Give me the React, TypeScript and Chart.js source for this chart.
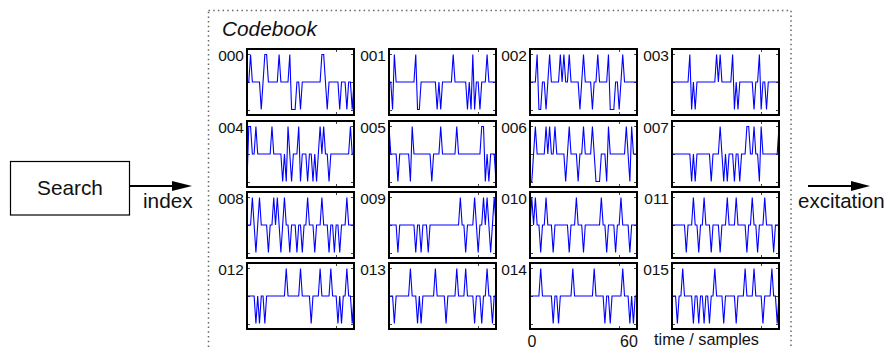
import React, { useEffect, useRef } from "react";
import { Chart, registerables } from "chart.js";

Chart.register(...registerables);

// ---------------- data ----------------
const codebookLabels = ["000", "001", "002", "003", "004", "005", "006", "007", "008", "009", "010", "011", "012", "013", "014", "015"];
const sampleCount = 61; // samples 0..60
const xTicks = [0, 50];
const yTicks = [-1, 0, 1];
const timeTickLabels = ["0", "60"];

// pulses: [sample index, amplitude]; all other samples are 0
const pulses000 = [[2, 1], [8, -1], [10, 1], [11, 1], [18, 1], [24, 1], [25, -1], [26, -1], [27, -1], [30, -1], [42, 1], [43, 1], [45, -1], [52, -1], [56, -1], [59, -1]];
const pulses001 = [[2, -1], [3, 1], [15, 1], [16, -1], [17, -1], [27, -1], [29, -1], [36, 1], [44, -1], [46, -1], [47, 1], [48, -1], [51, -1], [55, 1]];
const pulses002 = [[4, 1], [5, -1], [6, -1], [9, -1], [11, 1], [17, 1], [19, 1], [22, 1], [28, -1], [30, 1], [35, -1], [38, 1], [44, 1], [45, -1], [46, -1], [47, -1], [50, -1], [52, 1]];
const pulses003 = [[10, 1], [11, -1], [13, -1], [25, 1], [27, 1], [34, 1], [35, -1], [37, -1], [46, -1], [49, 1], [50, -1], [53, -1]];
const pulses004 = [[0, -1], [1, 1], [2, 1], [5, 1], [14, 1], [20, -1], [22, -1], [23, 1], [25, -1], [29, 1], [30, -1], [34, -1], [37, -1], [39, -1], [41, 1], [43, 1], [46, -1], [58, 1]];
const pulses005 = [[0, 1], [5, -1], [12, -1], [13, 1], [24, -1], [29, 1], [38, 1], [52, 1], [53, 1], [54, -1], [56, -1], [60, -1]];
const pulses006 = [[0, -1], [1, -1], [3, 1], [9, 1], [11, 1], [14, 1], [20, -1], [22, 1], [27, -1], [30, 1], [35, 1], [37, -1], [38, -1], [39, -1], [43, -1], [44, 1], [54, 1], [56, -1], [57, 1]];
const pulses007 = [[11, -1], [13, -1], [22, -1], [27, 1], [29, -1], [31, -1], [35, -1], [38, -1], [42, 1], [43, 1], [46, 1], [49, -1], [50, 1], [60, 1]];
const pulses008 = [[3, 1], [5, -1], [7, 1], [12, -1], [15, 1], [17, 1], [19, -1], [21, 1], [24, -1], [28, -1], [31, -1], [34, 1], [38, -1], [42, 1], [46, -1], [49, -1], [52, -1], [56, 1]];
const pulses009 = [[5, -1], [15, -1], [18, -1], [22, -1], [40, 1], [43, -1], [48, 1], [50, -1], [53, 1], [55, 1], [57, -1], [59, 1]];
const pulses010 = [[1, 1], [3, 1], [6, -1], [9, 1], [13, -1], [22, -1], [26, 1], [30, -1], [40, 1], [43, -1], [48, -1], [51, 1], [56, -1]];
const pulses011 = [[8, -1], [12, 1], [15, -1], [18, 1], [22, -1], [27, -1], [31, 1], [36, 1], [42, -1], [45, 1], [48, -1], [52, 1], [57, -1]];
const pulses012 = [[5, -1], [7, -1], [10, -1], [22, 1], [30, 1], [36, -1], [41, 1], [47, 1], [51, -1], [53, -1], [56, 1], [59, -1]];
const pulses013 = [[3, -1], [12, 1], [16, -1], [18, -1], [26, 1], [32, -1], [38, 1], [43, 1], [48, -1], [52, -1], [55, 1], [58, -1]];
const pulses014 = [[6, 1], [13, -1], [16, -1], [24, 1], [36, 1], [42, -1], [45, -1], [52, 1], [56, -1], [58, -1]];
const pulses015 = [[3, -1], [6, 1], [12, -1], [15, -1], [18, -1], [21, -1], [24, 1], [29, -1], [36, -1], [41, 1], [46, 1], [51, -1], [56, 1], [59, -1]];

const codebookPulses = [pulses000, pulses001, pulses002, pulses003, pulses004, pulses005, pulses006, pulses007, pulses008, pulses009, pulses010, pulses011, pulses012, pulses013, pulses014, pulses015];

// ---------------- layout ----------------
const colLefts = [247, 389, 530, 672];
const rowTops = [49, 121, 192, 263];
const plotW = 107;
const plotH = 66;
const PAD = 2;
const FONT = '"Liberation Sans", Arial, Helvetica, sans-serif';
const TEXT = "#111";

function buildSeries(pulses: number[][]) {
  const arr: { x: number; y: number }[] = [];
  for (let i = 0; i < sampleCount; i++) arr.push({ x: i, y: 0 });
  pulses.forEach(([s, v]) => {
    arr[s].y = v;
  });
  return arr;
}

const framePlugin = {
  id: "matlabFrame",
  beforeDatasetsDraw(chart: any) {
    const { ctx, chartArea, scales } = chart;
    const { left, right, top, bottom } = chartArea;
    ctx.save();
    ctx.strokeStyle = "#444";
    ctx.lineWidth = 1;
    const tl = 3;
    ctx.beginPath();
    xTicks.forEach((t) => {
      const px = Math.round(scales.x.getPixelForValue(t)) + 0.5;
      ctx.moveTo(px, top);
      ctx.lineTo(px, top + tl);
      ctx.moveTo(px, bottom);
      ctx.lineTo(px, bottom - tl);
    });
    yTicks.forEach((t) => {
      const py = Math.round(scales.y.getPixelForValue(t)) + 0.5;
      ctx.moveTo(left, py);
      ctx.lineTo(left + tl, py);
      ctx.moveTo(right, py);
      ctx.lineTo(right - tl, py);
    });
    ctx.stroke();
    ctx.restore();
  },
  afterDraw(chart: any) {
    const { ctx, chartArea } = chart;
    ctx.save();
    ctx.strokeStyle = "#000";
    ctx.lineWidth = 2;
    ctx.strokeRect(chartArea.left, chartArea.top, chartArea.right - chartArea.left, chartArea.bottom - chartArea.top);
    ctx.restore();
  },
};

function SignalPlot({ index, left, top }: { index: number; left: number; top: number }) {
  const ref = useRef<HTMLCanvasElement | null>(null);
  useEffect(() => {
    const canvas = ref.current;
    if (!canvas) return;
    const chart = new Chart(canvas, {
      type: "line",
      data: {
        datasets: [
          {
            data: buildSeries(codebookPulses[index]),
            borderColor: "#0000ff",
            borderWidth: 1.1,
            pointRadius: 0,
            tension: 0,
            fill: false,
          },
        ],
      },
      options: {
        animation: false,
        responsive: false,
        maintainAspectRatio: false,
        events: [],
        layout: { padding: PAD },
        plugins: { legend: { display: false }, tooltip: { enabled: false }, title: { display: false } },
        scales: {
          x: { type: "linear", min: 0, max: 60, display: false },
          y: { type: "linear", min: -1.2, max: 1.2, display: false },
        },
      },
      plugins: [framePlugin],
    } as any);
    return () => chart.destroy();
  }, [index]);
  const w = plotW + PAD * 2;
  const h = plotH + PAD * 2;
  return (
    <canvas
      ref={ref}
      width={w}
      height={h}
      style={{ position: "absolute", left: left - PAD, top: top - PAD, width: w, height: h }}
    />
  );
}

export default function App() {
  const plots: React.ReactNode[] = [];
  const labels: React.ReactNode[] = [];
  codebookLabels.forEach((lab, i) => {
    const r = Math.floor(i / 4);
    const c = i % 4;
    plots.push(<SignalPlot key={lab} index={i} left={colLefts[c]} top={rowTops[r]} />);
    labels.push(
      <text key={lab} x={colLefts[c] - 3} y={rowTops[r] + 11.5} textAnchor="end" fontSize={15.5} fill={TEXT}>
        {lab}
      </text>
    );
  });
  const p14Left = colLefts[2];
  return (
    <div
      style={{
        position: "fixed",
        left: 0,
        top: 0,
        width: 889,
        height: 348,
        overflow: "hidden",
        background: "#fff",
        fontFamily: FONT,
      }}
    >
      <svg width={889} height={348} style={{ position: "absolute", left: 0, top: 0 }} fontFamily={FONT}>
        <rect x={208.5} y={10.5} width={582.5} height={380} fill="none" stroke="#666" strokeWidth={1.5} strokeDasharray="1.5 3.2" />
        <rect x={10.5} y={161.5} width={119} height={53.5} fill="none" stroke="#000" strokeWidth={1.2} />
        <text x={70} y={194.5} textAnchor="middle" fontSize={20.8} fill={TEXT}>Search</text>
        <line x1={129} y1={186} x2={175} y2={186} stroke="#000" strokeWidth={2} />
        <polygon points="192,186 172,181 172,191" fill="#000" />
        <text x={143} y={207.5} fontSize={20.8} fill={TEXT}>index</text>
        <line x1={808} y1={186} x2={854} y2={186} stroke="#000" strokeWidth={2} />
        <polygon points="870,186 851,181 851,191" fill="#000" />
        <text x={798} y={208} fontSize={20.5} fill={TEXT}>excitation</text>
        <text x={222} y={36} fontSize={20.8} fontStyle="italic" fill={TEXT}>Codebook</text>
        {labels}
        <text x={p14Left + 2} y={346.5} textAnchor="middle" fontSize={16} fill={TEXT}>{timeTickLabels[0]}</text>
        <text x={p14Left + 99} y={346.5} textAnchor="middle" fontSize={16} fill={TEXT}>{timeTickLabels[1]}</text>
        <text x={654} y={345} fontSize={16.3} fill={TEXT}>time / samples</text>
      </svg>
      {plots}
    </div>
  );
}
